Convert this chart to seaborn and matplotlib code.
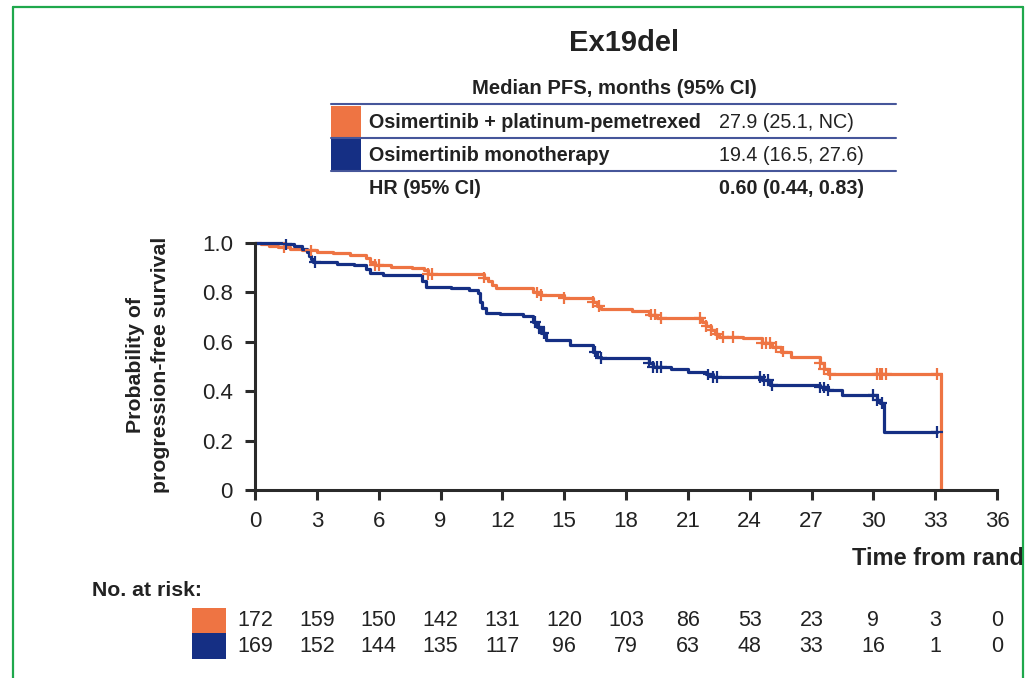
import numpy as np
import pandas as pd
import matplotlib
matplotlib.use("Agg")
import matplotlib.pyplot as plt
from matplotlib.lines import Line2D
from matplotlib.patches import Rectangle
from matplotlib.transforms import Bbox, TransformedBbox, blended_transform_factory
import seaborn as sns

# ---------------- data ----------------
arms = ["Osimertinib + platinum-pemetrexed", "Osimertinib monotherapy"]
arm_colors = ["#EE7443", "#152F84"]

# Kaplan-Meier steps: event times (months) and survival level after each step
combo_times = [0, 0.3, 0.7, 1.1, 1.7, 2.3, 3.0, 3.8, 4.6, 5.4, 5.6, 5.8, 6.6, 7.6,
               8.2, 8.4, 11.1, 11.3, 11.5, 11.7, 13.5, 13.9, 15.0, 16.4, 16.6,
               16.8, 18.3, 19.1, 19.5, 21.7, 21.9, 22.1, 22.3, 22.5, 23.7, 24.6,
               25.1, 25.5, 26.0, 27.4, 27.6, 27.8, 33.3]
combo_surv = [1.0, 0.994, 0.988, 0.982, 0.976, 0.970, 0.964, 0.958, 0.952, 0.94,
              0.925, 0.912, 0.904, 0.897, 0.889, 0.874, 0.86, 0.845, 0.83, 0.818,
              0.80, 0.79, 0.777, 0.761, 0.745, 0.733, 0.725, 0.71, 0.696, 0.68,
              0.665, 0.648, 0.632, 0.62, 0.615, 0.595, 0.58, 0.56, 0.54, 0.513,
              0.49, 0.47, 0.0]
combo_censor = [1.4, 2.7, 5.8, 6.0, 8.4, 8.6, 11.1, 13.7, 13.9, 15.0, 16.4, 16.7,
                19.2, 19.4, 19.7, 21.6, 21.9, 22.1, 22.4, 22.7, 23.2, 24.6, 24.8,
                25.0, 25.3, 25.6, 27.4, 27.6, 27.9, 30.2, 30.3, 30.4, 30.6, 33.1]

mono_times = [0, 1.4, 1.9, 2.3, 2.5, 2.6, 2.7, 2.8, 4.0, 4.8, 5.4, 5.6, 6.2, 8.1,
              8.3, 9.5, 10.4, 10.8, 10.9, 11.0, 11.2, 11.9, 13.0, 13.5, 13.7, 13.9,
              14.1, 15.3, 16.4, 16.6, 16.8, 19.1, 19.3, 20.2, 21.0, 21.9, 22.2,
              24.6, 25.0, 27.4, 27.8, 28.5, 30.2, 30.3, 30.5, 33.1]
mono_surv = [1.0, 0.994, 0.988, 0.976, 0.964, 0.947, 0.935, 0.923, 0.917, 0.911,
             0.893, 0.878, 0.87, 0.846, 0.822, 0.816, 0.81, 0.797, 0.76, 0.735,
             0.717, 0.713, 0.705, 0.68, 0.66, 0.635, 0.607, 0.587, 0.56, 0.54,
             0.534, 0.516, 0.498, 0.49, 0.478, 0.468, 0.458, 0.445, 0.425, 0.415,
             0.405, 0.385, 0.365, 0.352, 0.235, 0.235]
mono_censor = [1.5, 2.9, 13.6, 13.8, 14.0, 16.5, 16.8, 19.1, 19.3, 19.5, 19.7,
               22.0, 22.2, 22.4, 24.5, 24.7, 24.9, 25.1, 27.4, 27.6, 27.8, 30.0,
               30.2, 30.4, 33.1]

risk_times = [0, 3, 6, 9, 12, 15, 18, 21, 24, 27, 30, 33, 36]
risk_combo = [172, 159, 150, 142, 131, 120, 103, 86, 53, 23, 9, 3, 0]
risk_mono = [169, 152, 144, 135, 117, 96, 79, 63, 48, 33, 16, 1, 0]

median_text = ["27.9 (25.1, NC)", "19.4 (16.5, 27.6)"]
hr_text = "0.60 (0.44, 0.83)"

# ---------------- style ----------------
sns.set_style("ticks")
plt.rcParams["font.family"] = ["Liberation Sans", "DejaVu Sans"]
TXT = "#222222"
AX = "#2a2a2a"

W, H = 1026, 678
fig = plt.figure(figsize=(W / 100, H / 100), dpi=100)


def fx(px):
    return px / W


def fy(py):
    return 1 - py / H


ax = fig.add_axes([fx(255), fy(490), fx(997) - fx(255), fy(243) - fy(490)])

# ---------------- curves ----------------
curve_df = pd.concat([
    pd.DataFrame({"time": combo_times, "surv": combo_surv, "arm": arms[0]}),
    pd.DataFrame({"time": mono_times, "surv": mono_surv, "arm": arms[1]}),
], ignore_index=True)


def level_at(times, surv, t):
    idx = np.searchsorted(times, t, side="right") - 1
    return np.asarray(surv)[idx]


cens_df = pd.concat([
    pd.DataFrame({"time": combo_censor,
                  "surv": level_at(combo_times, combo_surv, combo_censor),
                  "arm": arms[0]}),
    pd.DataFrame({"time": mono_censor,
                  "surv": level_at(mono_times, mono_surv, mono_censor),
                  "arm": arms[1]}),
], ignore_index=True)

palette = dict(zip(arms, arm_colors))
sns.lineplot(data=curve_df, x="time", y="surv", hue="arm", palette=palette,
             estimator=None, sort=False, drawstyle="steps-post", lw=2.3,
             legend=False, ax=ax, clip_on=False)
sns.scatterplot(data=cens_df, x="time", y="surv", hue="arm", palette=palette,
                marker="+", s=70, linewidth=1.6, legend=False, ax=ax,
                clip_on=False, zorder=3)

ax.set_xlim(0, 36)
ax.set_ylim(0, 1)
ax.set_xticks(risk_times)
ax.set_xticklabels([str(t) for t in risk_times])
ax.set_yticks([0, 0.2, 0.4, 0.6, 0.8, 1.0])
ax.set_yticklabels(["0", "0.2", "0.4", "0.6", "0.8", "1.0"])
ax.set_xlabel("")
ax.set_ylabel("")
sns.despine(ax=ax)
for side in ("left", "bottom"):
    ax.spines[side].set_linewidth(2.2)
    ax.spines[side].set_color(AX)
ax.tick_params(axis="both", direction="out", length=7, width=2.2, color=AX,
               labelsize=16, labelcolor=TXT)
ax.tick_params(axis="y", pad=9)
ax.tick_params(axis="x", pad=8)

# axis titles
fig.text(fx(148), fy(365), "Probability of\nprogression-free survival",
         rotation=90, ha="center", va="center", multialignment="center",
         fontsize=15.3, fontweight="bold", color=TXT, linespacing=1.42)
xl = fig.text(fx(852), fy(558), "Time from randomisation (months)",
              ha="left", va="center", fontsize=17, fontweight="bold", color=TXT)
xl.set_clip_box(TransformedBbox(Bbox([[0, 0], [fx(1022), 1]]), fig.transFigure))
xl.set_clip_on(True)

# title
fig.text(fx(624), fy(43), "Ex19del", ha="center", va="center", fontsize=21,
         fontweight="bold", color=TXT)

# ---------------- median PFS table ----------------
TS = 14.2
fig.text(fx(614), fy(89), "Median PFS, months (95% CI)", ha="center", va="center",
         fontsize=14.6, fontweight="bold", color=TXT)
rule_color = "#46569a"
for py in (104, 138, 171):
    fig.add_artist(Line2D([fx(331), fx(896)], [fy(py), fy(py)], color=rule_color,
                          lw=1.5, transform=fig.transFigure))
row_bounds = [(106, 137), (139, 170)]
for (top, bot), arm, col, med in zip(row_bounds, arms, arm_colors, median_text):
    fig.add_artist(Rectangle((fx(331), fy(bot)), fx(361) - fx(331), fy(top) - fy(bot),
                             transform=fig.transFigure, facecolor=col, edgecolor="none"))
    yc = fy((top + bot) / 2 + 1)
    fig.text(fx(369), yc, arm, ha="left", va="center", fontsize=TS,
             fontweight="bold", color=TXT)
    fig.text(fx(719), yc, med, ha="left", va="center", fontsize=TS, color=TXT)
fig.text(fx(369), fy(188), "HR (95% CI)", ha="left", va="center", fontsize=TS,
         fontweight="bold", color=TXT)
fig.text(fx(719), fy(188), hr_text, ha="left", va="center", fontsize=TS,
         fontweight="bold", color=TXT)

# ---------------- number at risk ----------------
fig.text(fx(92), fy(590), "No. at risk:", ha="left", va="center", fontsize=15.3,
         fontweight="bold", color=TXT)
blend = blended_transform_factory(ax.transData, fig.transFigure)
for (top, bot), col, counts in zip([(608, 633), (633, 659)], arm_colors,
                                   [risk_combo, risk_mono]):
    fig.add_artist(Rectangle((fx(192), fy(bot)), fx(226) - fx(192), fy(top) - fy(bot),
                             transform=fig.transFigure, facecolor=col, edgecolor="none"))
    for t, n in zip(risk_times, counts):
        fig.text(t, fy((top + bot) / 2), str(n), transform=blend, ha="center",
                 va="center", fontsize=15.5, color=TXT)

# ---------------- frame ----------------
frame = "#1FA84C"
for xs, ys in (([13, 13], [7, H + 5]), ([13, 1023], [7, 7]), ([1023, 1023], [7, H + 5])):
    fig.add_artist(Line2D([fx(x) for x in xs], [fy(y) for y in ys], color=frame,
                          lw=1.6, transform=fig.transFigure))

fig.savefig("out.png", dpi=100, facecolor="white")
